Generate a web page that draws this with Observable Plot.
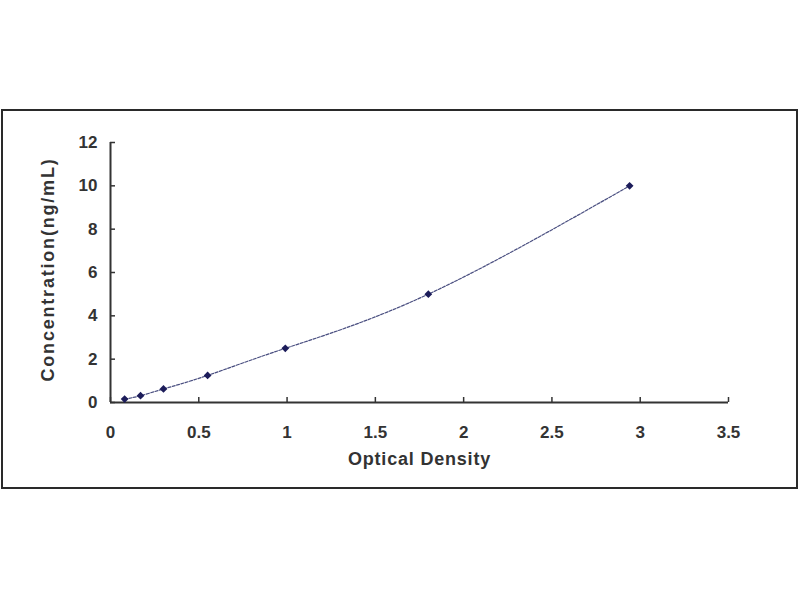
<!DOCTYPE html>
<html>
<head>
<meta charset="utf-8">
<script src="https://cdn.jsdelivr.net/npm/d3@7"></script>
<script src="https://cdn.jsdelivr.net/npm/@observablehq/plot@0.6"></script>
<style>
  body { margin: 0; background: #fff; }
  #chart { position: relative; width: 800px; height: 600px; }
  #border {
    position: absolute; left: 1px; top: 109px; width: 793px; height: 376px;
    border: 2px solid #2a2a2a; pointer-events: none;
  }
  .ylab text { letter-spacing: 1.8px; }
  .xlab text { letter-spacing: 0.8px; }
</style>
</head>
<body>
<div id="chart"><div id="border"></div></div>
<script>
// standard curve points
const opticalDensity = [0.08, 0.17, 0.30, 0.55, 0.99, 1.80, 2.94];
const concentration = [0.156, 0.312, 0.625, 1.25, 2.5, 5, 10];

const xTicks = [0, 0.5, 1, 1.5, 2, 2.5, 3, 3.5];
const yTicks = [0, 2, 4, 6, 8, 10, 12];

const points = opticalDensity.map((od, i) => ({od, conc: concentration[i]}));

const chart = Plot.plot({
  width: 800,
  height: 600,
  marginLeft: 110,
  marginRight: 72,
  marginTop: 142,
  marginBottom: 198,
  style: {fontFamily: "Liberation Sans, Arial, sans-serif", fontSize: "17px", fontWeight: "bold", color: "#333"},
  x: {domain: [0, 3.5]},
  y: {domain: [0, 12]},
  marks: [
    Plot.axisX({ticks: xTicks, tickSize: -5, tickPadding: 28, tickFormat: d => String(d), label: null, stroke: "#333", strokeWidth: 1.5}),
    Plot.axisY({ticks: yTicks, tickSize: -5, tickPadding: 18, label: null, stroke: "#333", strokeWidth: 1.5}),
    Plot.ruleY([0], {stroke: "#333", strokeWidth: 2}),
    Plot.ruleX([0], {stroke: "#333", strokeWidth: 2}),
    Plot.line(points, {x: "od", y: "conc", curve: "natural", stroke: "#4a4f80", strokeWidth: 1.2, strokeDasharray: "3,1.5"}),
    Plot.dot(points, {x: "od", y: "conc", symbol: "diamond2", r: 3.5, fill: "#1c1c5a", stroke: "none"}),
    Plot.text(["Optical Density"], {frameAnchor: "bottom", dy: 62, fontSize: 18, fontWeight: "bold", fill: "#333", className: "xlab"}),
    Plot.text(["Concentration(ng/mL)"], {frameAnchor: "left", textAnchor: "middle", dx: -62, dy: -3, rotate: -90, fontSize: 18, fontWeight: "bold", fill: "#333", className: "ylab"})
  ]
});

document.querySelector("#chart").append(chart);
</script>
</body>
</html>
